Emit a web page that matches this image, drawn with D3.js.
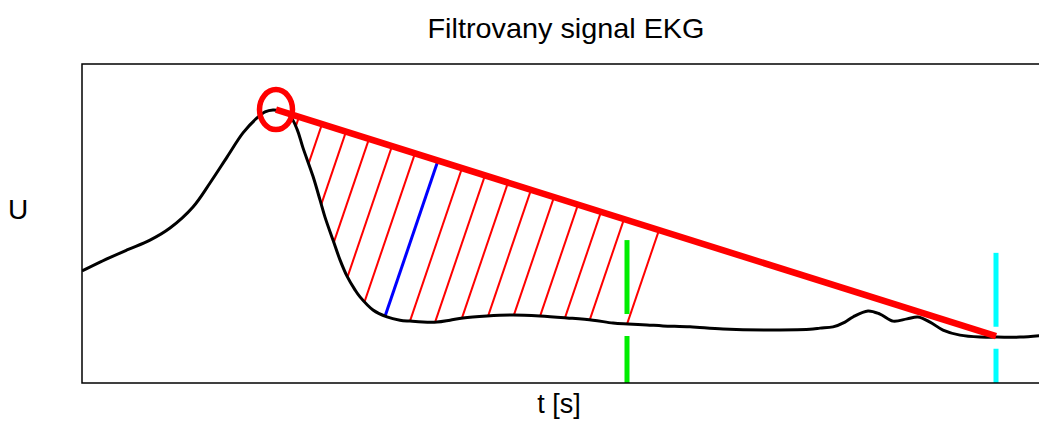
<!DOCTYPE html>
<html><head><meta charset="utf-8">
<script src="https://cdn.jsdelivr.net/npm/d3@7/dist/d3.min.js"></script>
<style>body{margin:0;background:#fff}svg{display:block}text{font-family:"Liberation Sans",Arial,sans-serif;fill:#000}</style>
</head><body><svg id="c" width="1039" height="421"></svg>
<script>
// signal samples: time (sample units) and amplitude U
const sigT = [0,9,22.5,34,44,55.5,64,72.5,80.5,87.5,91.5,95.5,99,104,107.5,110.5,115.5,119,121.5,125.5,129,132.5,136.5,139,145.5,152.5,159,164,170.5,177.5,184,190.5,202.5,215.5,229,242.5,255.5,265.5,273,282.5,290.5,304,320.5,345.5,365.5,369,375.5,381.5,385.5,393,399,405.5,412.5,418,424,430.5,439,449,457.5,469,481];
const sigU = [0.351,0.379,0.417,0.448,0.486,0.552,0.627,0.708,0.784,0.831,0.850,0.856,0.853,0.837,0.796,0.737,0.648,0.574,0.520,0.448,0.386,0.335,0.292,0.270,0.229,0.207,0.197,0.194,0.191,0.191,0.197,0.204,0.210,0.213,0.210,0.204,0.197,0.188,0.185,0.182,0.179,0.176,0.169,0.166,0.169,0.172,0.176,0.191,0.207,0.226,0.216,0.194,0.201,0.207,0.191,0.166,0.150,0.144,0.144,0.144,0.150];
// detected peak and end point of chord
const peakT = 97, peakU = 0.857;
const endT = 457, endU = 0.147;
// hatch start positions along the chord (time units)
const hatchT = [108.5,120,132,143.5,155,166.5,178,190,201.5,213,224.5,236,248,259.5,271,288.5];
const maxIndex = 6; // hatch of max distance (blue)
// marker lines
const markerT = [272.5, 457];
const markerTopU = [0.448, 0.408];
const markerColor = ["#00ee00", "#00ffff"];
const titleText = "Filtrovany signal EKG", xLabel = "t [s]", yLabel = "U";

const svg = d3.select("#c");
const L = 82, R = 1044, T = 64, B = 383;
const x = d3.scaleLinear().domain([0, 481]).range([L, R]);
const y = d3.scaleLinear().domain([0, 1]).range([B, T]);

const pts = sigT.map((t, i) => [x(t), y(sigU[i])]);
const clip = svg.append("clipPath").attr("id", "cp").append("rect")
  .attr("x", L).attr("y", T).attr("width", R - L).attr("height", B - T);
const g = svg.append("g").attr("clip-path", "url(#cp)");

// interpolate curve y in pixels at pixel x
function curveY(px) {
  for (let i = 0; i < pts.length - 1; i++) {
    if (px >= pts[i][0] && px <= pts[i + 1][0]) {
      const f = (px - pts[i][0]) / (pts[i + 1][0] - pts[i][0]);
      return pts[i][1] + f * (pts[i + 1][1] - pts[i][1]);
    }
  }
  return pts[pts.length - 1][1];
}
const p0 = [x(peakT), y(peakU)], p1 = [x(endT), y(endU)];
const chordY = px => p0[1] + (px - p0[0]) * (p1[1] - p0[1]) / (p1[0] - p0[0]);
const dirX = -0.34; // hatch direction: dx per 1px down

hatchT.forEach((ht, i) => {
  const tx = x(ht), ty = chordY(tx);
  let bx = tx, by = ty;
  for (let s = 0; s < 400; s += 0.25) {
    const cx = tx + dirX * s, cy = ty + s;
    if (cy >= curveY(cx)) { bx = cx; by = cy; break; }
  }
  g.append("line").attr("x1", tx).attr("y1", ty).attr("x2", bx).attr("y2", by)
    .attr("stroke", i === maxIndex ? "#0000ff" : "#ff0000")
    .attr("stroke-width", i === maxIndex ? 3 : 2);
});

// signal
g.append("path").datum(sigT.map((t, i) => [t, sigU[i]]))
  .attr("d", d3.line().x(d => x(d[0])).y(d => y(d[1])).curve(d3.curveCatmullRom.alpha(0.5)))
  .attr("fill", "none").attr("stroke", "#000").attr("stroke-width", 3);

// chord
g.append("line").attr("x1", p0[0]).attr("y1", p0[1]).attr("x2", p1[0]).attr("y2", p1[1])
  .attr("stroke", "#ff0000").attr("stroke-width", 6.5);

// markers
markerT.forEach((mt, i) => {
  g.append("line").attr("x1", x(mt)).attr("x2", x(mt))
    .attr("y1", y(markerTopU[i])).attr("y2", y(0))
    .attr("stroke", markerColor[i]).attr("stroke-width", 5)
    .attr("stroke-dasharray", "74,22");
});

// circle at peak
svg.append("ellipse").attr("cx", p0[0]).attr("cy", p0[1]).attr("rx", 16.5).attr("ry", 20)
  .attr("fill", "none").attr("stroke", "#ff0000").attr("stroke-width", 5.5);

// axes box
svg.append("rect").attr("x", L).attr("y", T).attr("width", R - L).attr("height", B - T)
  .attr("fill", "none").attr("stroke", "#000").attr("stroke-width", 1.5);

// texts
const cxm = (L + R) / 2;
svg.append("text").attr("x", cxm + 3).attr("y", 38).attr("text-anchor", "middle")
  .attr("font-size", 28).attr("textLength", 277).attr("lengthAdjust", "spacingAndGlyphs").text(titleText);
svg.append("text").attr("x", cxm - 4).attr("y", 413).attr("text-anchor", "middle")
  .attr("font-size", 27).text(xLabel);
svg.append("text").attr("x", 18).attr("y", 219).attr("text-anchor", "middle")
  .attr("font-size", 28).text(yLabel);
</script></body></html>
